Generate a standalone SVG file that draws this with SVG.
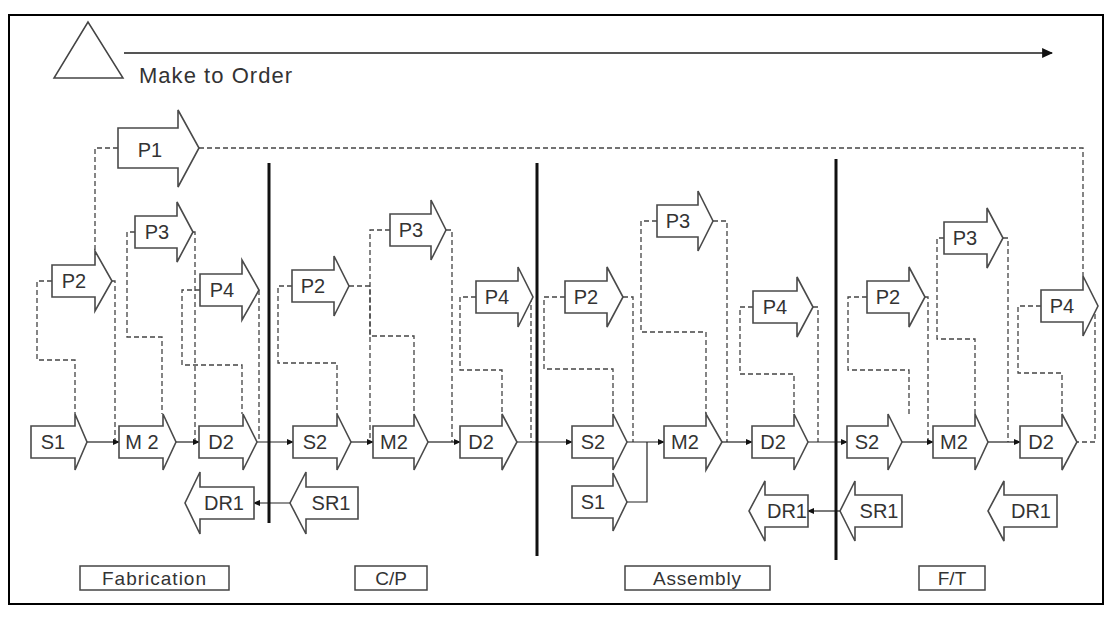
<svg xmlns="http://www.w3.org/2000/svg" width="1112" height="619" viewBox="0 0 1112 619">
<defs>
<marker id="ah" viewBox="0 0 8 8" refX="7" refY="4" markerWidth="7" markerHeight="7" markerUnits="userSpaceOnUse" orient="auto">
<path d="M0,0.5 L8,4 L0,7.5 Z" fill="#111"/>
</marker>
<marker id="big" viewBox="0 0 10 10" refX="9" refY="5" markerWidth="11" markerHeight="11" markerUnits="userSpaceOnUse" orient="auto">
<path d="M0,0.5 L10,5 L0,9.5 Z" fill="#111"/>
</marker>
<style>
.arr{fill:#fff;stroke:#4a4a4a;stroke-width:1.6;stroke-linejoin:miter}
.lbl{font-family:"Liberation Sans",Arial,sans-serif;font-size:20px;fill:#333;text-anchor:middle}
.dash{fill:none;stroke:#444;stroke-width:1.3;stroke-dasharray:5,3}
.flow{fill:none;stroke:#222;stroke-width:1.2}
.div{stroke:#111;stroke-width:3}
.box{fill:#fff;stroke:#444;stroke-width:1.5}
.sec{font-family:"Liberation Sans",Arial,sans-serif;font-size:19px;fill:#333;text-anchor:middle}
</style>
</defs>
<rect x="0" y="0" width="1112" height="619" fill="#fff"/>
<rect x="9" y="15" width="1094" height="589" fill="none" stroke="#000" stroke-width="2"/>

<g id="legend">
<polygon points="88,22 54,78 123,78" fill="none" stroke="#444" stroke-width="1.5"/>
<line x1="124" y1="53" x2="1052" y2="53" stroke="#555" stroke-width="2" marker-end="url(#big)"/>
<text x="139" y="83" font-family="'Liberation Sans',Arial,sans-serif" font-size="22" fill="#333" textLength="153">Make to Order</text>
</g>

<g id="connectors">
<!-- dashed planning links -->
<path class="dash" d="M118,148 H95 V251"/>
<path class="dash" d="M199,148 H1083 V276"/>
<path class="dash" d="M52,281 H37 V360 H75 V414"/>
<path class="dash" d="M112,281 H115 V442"/>
<path class="dash" d="M135,232 H127 V337 H162 V414"/>
<path class="dash" d="M193,232 H195 V442"/>
<path class="dash" d="M200,290 H182 V365 H242 V414"/>
<path class="dash" d="M259,290 V442"/>

<path class="dash" d="M292,286 H278 V363 H337 V414"/>
<path class="dash" d="M349,286 H370 V442"/>
<path class="dash" d="M390,230 H370 V336 H414 V414"/>
<path class="dash" d="M446,230 H452 V442"/>
<path class="dash" d="M476,297 H460 V370 H502 V414"/>
<path class="dash" d="M531,297 V442"/>

<path class="dash" d="M565,297 H544 V369 H613 V414"/>
<path class="dash" d="M623,297 H633 V442"/>
<path class="dash" d="M657,221 H641 V332 H706 V414"/>
<path class="dash" d="M713,221 H727 V442"/>
<path class="dash" d="M753,307 H740 V374 H794 V414"/>
<path class="dash" d="M813,307 H818 V442"/>

<path class="dash" d="M867,297 H848 V370 H909 V414"/>
<path class="dash" d="M925,297 H928 V442"/>
<path class="dash" d="M944,238 H937 V339 H975 V414"/>
<path class="dash" d="M1003,238 H1008 V442"/>
<path class="dash" d="M1041,306 H1018 V373 H1062 V414"/>
<path class="dash" d="M1095,306 V442 H1077"/>

<!-- material flow -->
<path class="flow" d="M87,442 H119" marker-end="url(#ah)"/>
<path class="flow" d="M176,442 H199" marker-end="url(#ah)"/>
<path class="flow" d="M257,442 H293" marker-end="url(#ah)"/>
<path class="flow" d="M351,442 H373" marker-end="url(#ah)"/>
<path class="flow" d="M428,442 H460" marker-end="url(#ah)"/>
<path class="flow" d="M517,442 H572" marker-end="url(#ah)"/>
<path class="flow" d="M627,442 H664" marker-end="url(#ah)"/>
<path class="flow" d="M627,502 H647 V442"/>
<path class="flow" d="M722,442 H752" marker-end="url(#ah)"/>
<path class="flow" d="M808,442 H847" marker-end="url(#ah)"/>
<path class="flow" d="M902,442 H933" marker-end="url(#ah)"/>
<path class="flow" d="M988,442 H1020" marker-end="url(#ah)"/>
<path class="flow" d="M290,503 H254" marker-end="url(#ah)"/>
<path class="flow" d="M840,511 H808" marker-end="url(#ah)"/>
</g>

<g id="dividers">
<line class="div" x1="269" y1="163" x2="269" y2="523"/>
<line class="div" x1="537" y1="163" x2="537" y2="556"/>
<line class="div" x1="836" y1="159" x2="836" y2="560"/>
</g>

<!-- Fabrication -->
<g id="P1"><polygon class="arr" points="118,128 178,128 178,110 199,148 178,187 178,168 118,168"/><text class="lbl" x="150" y="157" font-size="24">P1</text></g>
<g id="fab-P2"><polygon class="arr" points="52,265 95,265 95,251 112,281 95,311 95,297 52,297"/><text class="lbl" x="74" y="288">P2</text></g>
<g id="fab-P3"><polygon class="arr" points="135,216 177,216 177,202 193,232 177,262 177,248 135,248"/><text class="lbl" x="157" y="239">P3</text></g>
<g id="fab-P4"><polygon class="arr" points="200,274 242,274 242,260 259,290 242,320 242,306 200,306"/><text class="lbl" x="222" y="297">P4</text></g>
<g id="fab-S1"><polygon class="arr" points="31,426 75,426 75,414 87,442 75,470 75,458 31,458"/><text class="lbl" x="53" y="449">S1</text></g>
<g id="fab-M2"><polygon class="arr" points="119,426 163,426 163,414 176,442 163,470 163,458 119,458"/><text class="lbl" x="142" y="449">M 2</text></g>
<g id="fab-D2"><polygon class="arr" points="199,426 243,426 243,414 257,442 243,470 243,458 199,458"/><text class="lbl" x="221" y="449">D2</text></g>
<g id="fab-DR1"><polygon class="arr" points="254,487 200,487 200,472 185,503 200,534 200,519 254,519"/><text class="lbl" x="224" y="510">DR1</text></g>

<!-- C/P -->
<g id="cp-P2"><polygon class="arr" points="292,270 334,270 334,256 349,286 334,316 334,302 292,302"/><text class="lbl" x="313" y="293">P2</text></g>
<g id="cp-P3"><polygon class="arr" points="390,214 431,214 431,200 446,230 431,260 431,246 390,246"/><text class="lbl" x="411" y="237">P3</text></g>
<g id="cp-P4"><polygon class="arr" points="476,281 518,281 518,267 533,297 518,327 518,313 476,313"/><text class="lbl" x="497" y="304">P4</text></g>
<g id="cp-S2"><polygon class="arr" points="293,426 337,426 337,414 351,442 337,470 337,458 293,458"/><text class="lbl" x="315" y="449">S2</text></g>
<g id="cp-M2"><polygon class="arr" points="373,426 414,426 414,414 428,442 414,470 414,458 373,458"/><text class="lbl" x="394" y="449">M2</text></g>
<g id="cp-D2"><polygon class="arr" points="460,426 502,426 502,414 517,442 502,470 502,458 460,458"/><text class="lbl" x="481" y="449">D2</text></g>
<g id="cp-SR1"><polygon class="arr" points="358,487 306,487 306,472 290,503 306,534 306,519 358,519"/><text class="lbl" x="331" y="510">SR1</text></g>

<!-- Assembly -->
<g id="as-P2"><polygon class="arr" points="565,281 607,281 607,267 623,297 607,327 607,313 565,313"/><text class="lbl" x="586" y="304">P2</text></g>
<g id="as-P3"><polygon class="arr" points="657,205 698,205 698,191 713,221 698,251 698,237 657,237"/><text class="lbl" x="678" y="228">P3</text></g>
<g id="as-P4"><polygon class="arr" points="753,291 797,291 797,277 813,307 797,337 797,323 753,323"/><text class="lbl" x="775" y="314">P4</text></g>
<g id="as-S2"><polygon class="arr" points="572,426 613,426 613,414 627,442 613,470 613,458 572,458"/><text class="lbl" x="593" y="449">S2</text></g>
<g id="as-S1"><polygon class="arr" points="572,486 613,486 613,473 627,502 613,531 613,518 572,518"/><text class="lbl" x="593" y="509">S1</text></g>
<g id="as-M2"><polygon class="arr" points="664,426 706,426 706,414 722,442 706,470 706,458 664,458"/><text class="lbl" x="685" y="449">M2</text></g>
<g id="as-D2"><polygon class="arr" points="752,426 794,426 794,414 808,442 794,470 794,458 752,458"/><text class="lbl" x="773" y="449">D2</text></g>
<g id="as-DR1"><polygon class="arr" points="808,495 765,495 765,481 749,511 765,541 765,527 808,527"/><text class="lbl" x="787" y="518">DR1</text></g>

<!-- F/T -->
<g id="ft-P2"><polygon class="arr" points="867,281 909,281 909,267 925,297 909,327 909,313 867,313"/><text class="lbl" x="888" y="304">P2</text></g>
<g id="ft-P3"><polygon class="arr" points="944,222 987,222 987,208 1003,238 987,268 987,254 944,254"/><text class="lbl" x="965" y="245">P3</text></g>
<g id="ft-P4"><polygon class="arr" points="1041,290 1083,290 1083,276 1098,306 1083,336 1083,322 1041,322"/><text class="lbl" x="1062" y="313">P4</text></g>
<g id="ft-S2"><polygon class="arr" points="847,426 888,426 888,414 902,442 888,470 888,458 847,458"/><text class="lbl" x="867" y="449">S2</text></g>
<g id="ft-M2"><polygon class="arr" points="933,426 975,426 975,414 988,442 975,470 975,458 933,458"/><text class="lbl" x="954" y="449">M2</text></g>
<g id="ft-D2"><polygon class="arr" points="1020,426 1062,426 1062,414 1077,442 1062,470 1062,458 1020,458"/><text class="lbl" x="1041" y="449">D2</text></g>
<g id="ft-SR1"><polygon class="arr" points="902,495 855,495 855,481 840,511 855,541 855,527 902,527"/><text class="lbl" x="879" y="518">SR1</text></g>
<g id="ft-DR1"><polygon class="arr" points="1057,495 1004,495 1004,481 988,511 1004,541 1004,527 1057,527"/><text class="lbl" x="1031" y="518">DR1</text></g>

<!-- section labels -->
<g id="sec-fabrication"><rect class="box" x="80" y="566" width="149" height="24"/><text class="sec" x="154" y="585" textLength="104">Fabrication</text></g>
<g id="sec-cp"><rect class="box" x="355" y="566" width="72" height="24"/><text class="sec" x="391" y="585">C/P</text></g>
<g id="sec-assembly"><rect class="box" x="625" y="566" width="145" height="24"/><text class="sec" x="697" y="585" textLength="88">Assembly</text></g>
<g id="sec-ft"><rect class="box" x="919" y="566" width="66" height="24"/><text class="sec" x="952" y="585">F/T</text></g>
</svg>
